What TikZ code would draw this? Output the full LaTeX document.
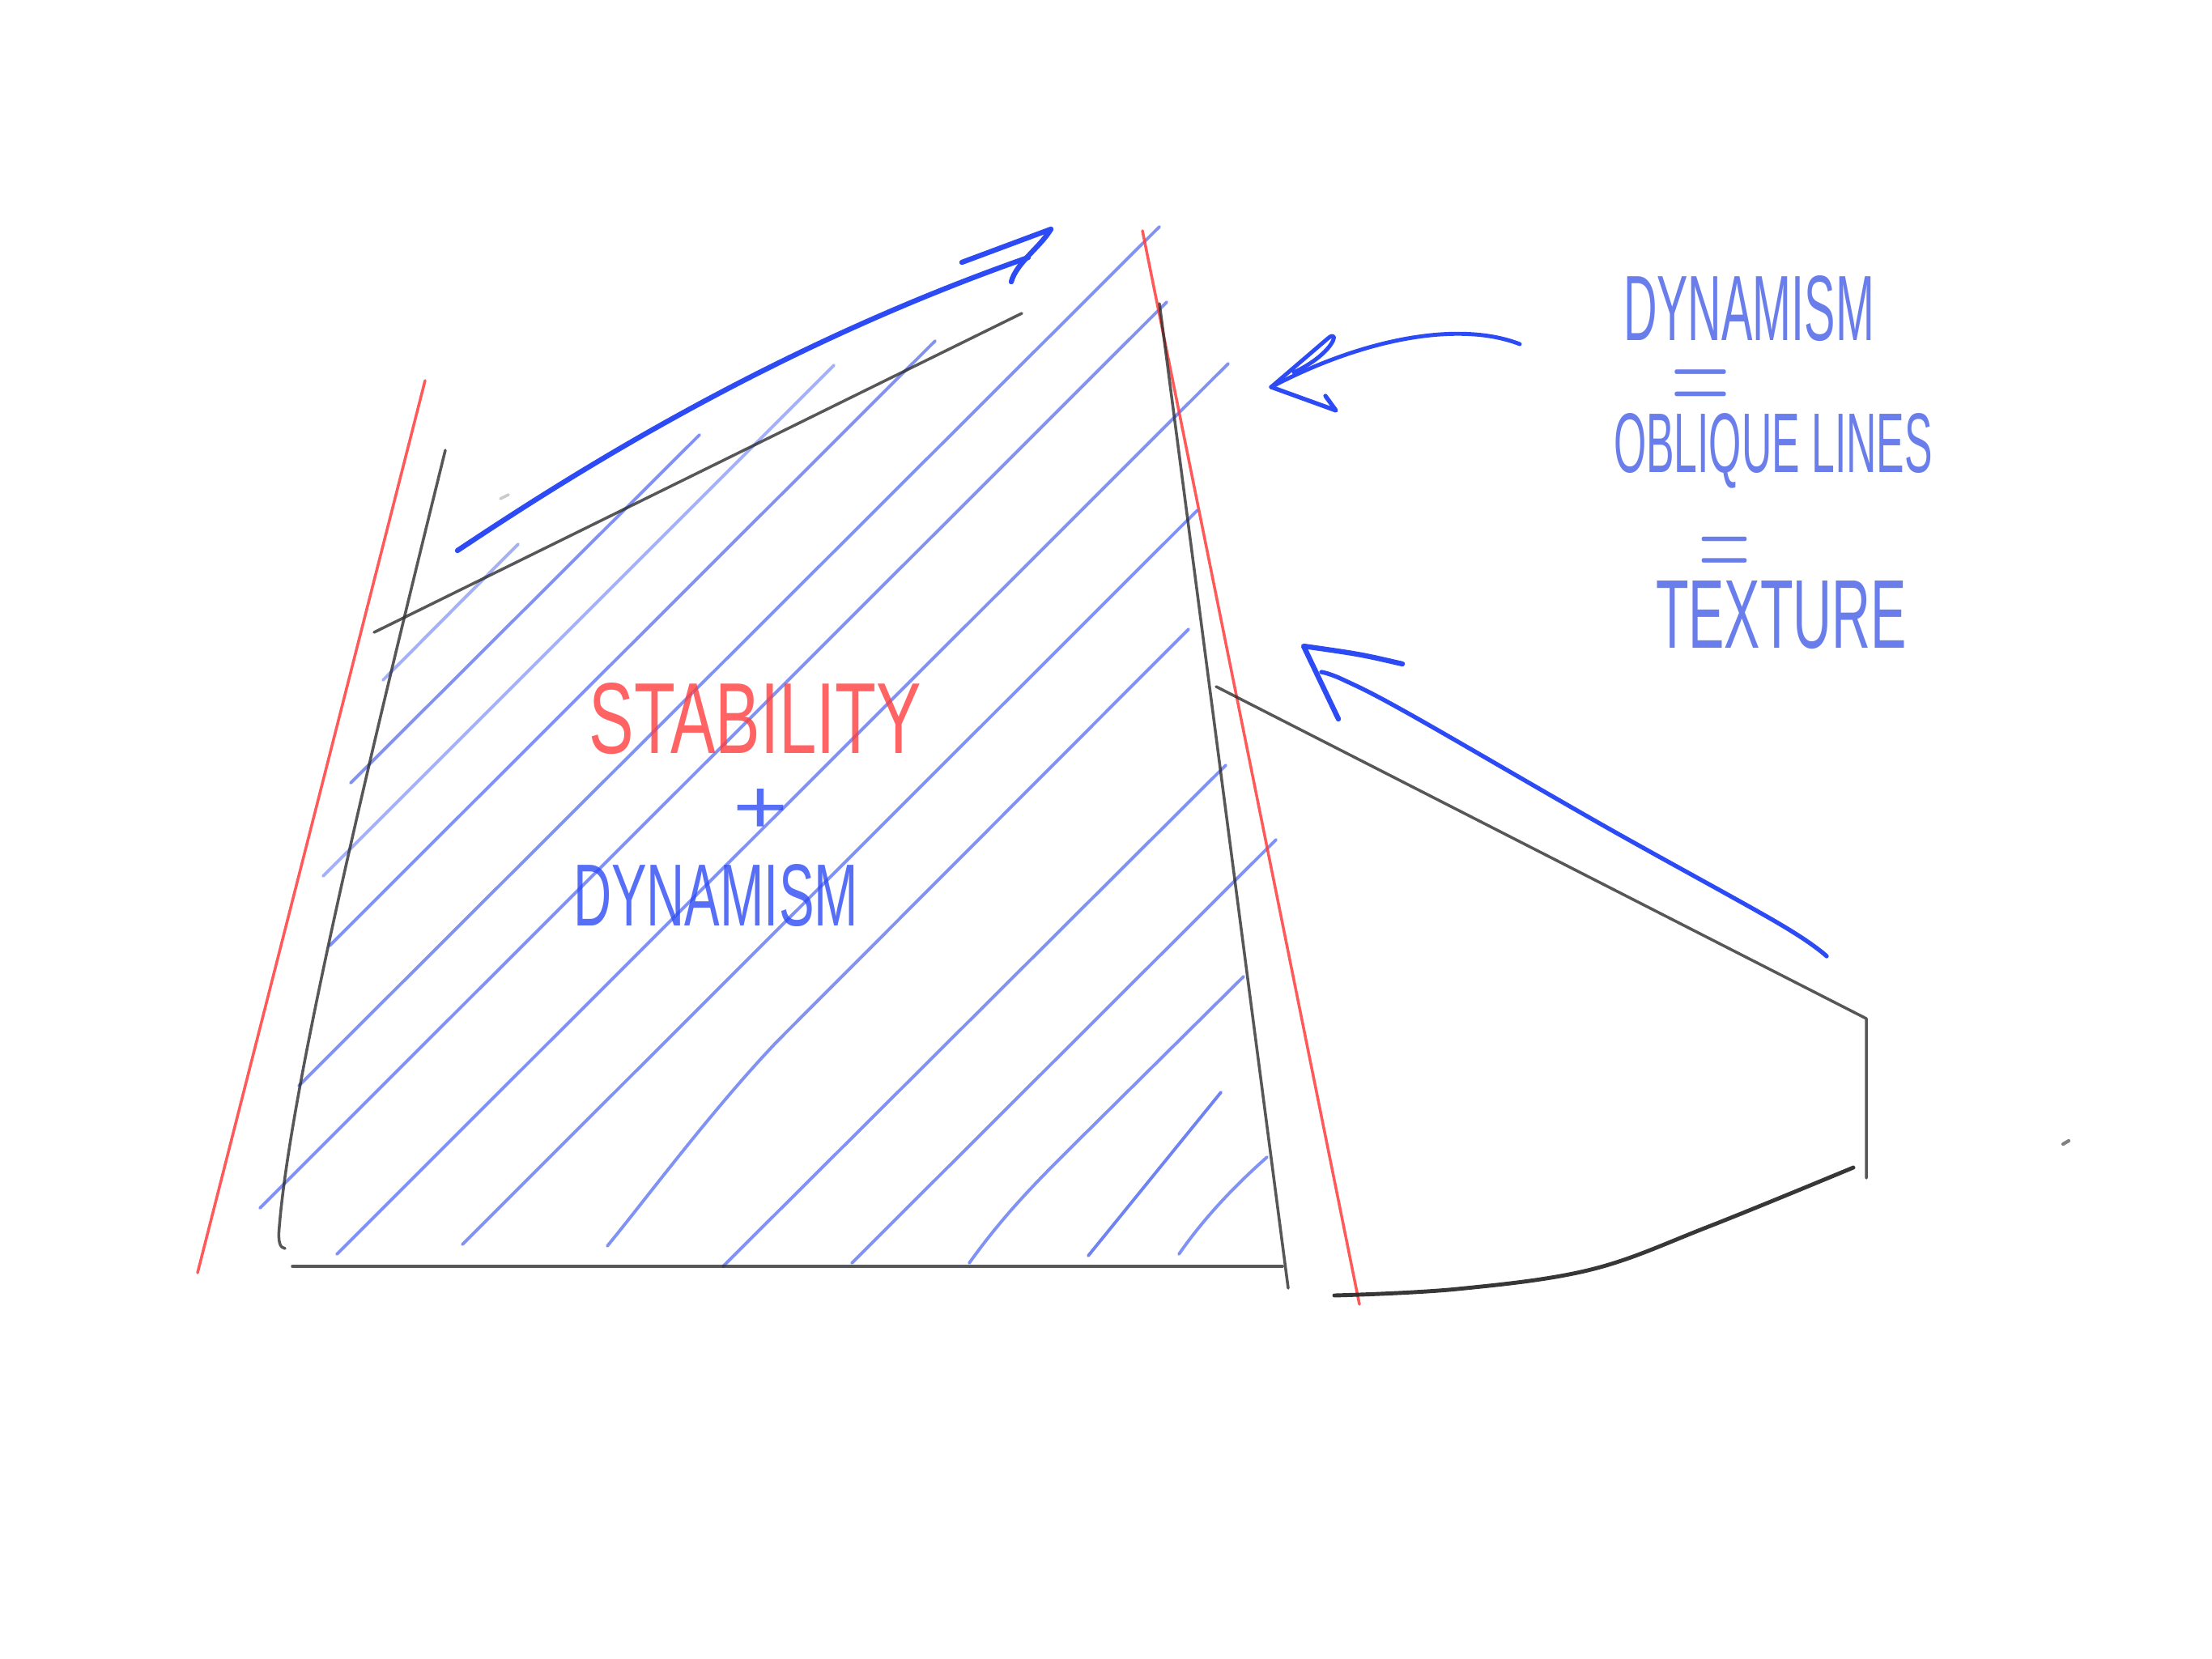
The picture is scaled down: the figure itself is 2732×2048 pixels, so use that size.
\documentclass[tikz,border=0pt]{standalone}
\usepackage[no-math]{fontspec}
\setmainfont{Liberation Sans}
\usepackage{graphicx}
\definecolor{inkred}{RGB}{255,60,60}
\definecolor{inkblue}{RGB}{45,75,245}
\definecolor{hatchblue}{RGB}{75,100,240}
\definecolor{paleblue}{RGB}{105,125,235}
\definecolor{pencil}{RGB}{45,45,45}
\newcommand{\handtext}[3]{\resizebox{#1}{#2}{#3}}
\newcommand{\handeq}{\raisebox{-1.33pt}[2.34pt][0pt]{$=$}}
\tikzset{
 outline/.style={pencil,opacity=0.8,line width=1pt,line cap=round,line join=round},
 redline/.style={inkred,opacity=0.85,line width=1pt,line cap=round},
 hatch/.style={hatchblue,opacity=0.7,line width=1.1pt,line cap=round},
 faint/.style={hatch,opacity=0.5},
 bluearrow/.style={inkblue,line width=1.8pt,line cap=round,line join=round},
 label/.style={inner sep=0pt,anchor=base}
}
\begin{document}
\begin{tikzpicture}[x=0.1mm,y=-0.1mm]
 \useasboundingbox[fill=white] (0,0) rectangle (2732,2048);
 % hatching
 \draw[faint](473,840)--(640,672);
 \draw[hatch](433,967)--(864,537);
 \draw[faint](399,1082)--(1030,451);
 \draw[hatch](407,1168)--(1155,421);
 \draw[hatch](369,1341)--(1432,280);
 \draw[hatch](321,1492)--(1441,373);
 \draw[hatch](416,1549)--(1517,449);
 \draw[hatch](571,1537)--(1479,630);
 \draw[hatch](750,1539) .. controls (800,1478) and (880,1370) .. (960,1286)--(1468,777);
 \draw[hatch](893,1564)--(1514,945);
 \draw[hatch](1052,1560)--(1576,1037);
 \draw[hatch](1197,1560) .. controls (1240,1500) and (1280,1460) .. (1320,1420)--(1536,1206);
 \draw[hatch,opacity=0.8](1344,1551)--(1508,1349);
 \draw[hatch](1456,1549) .. controls (1490,1500) and (1530,1460) .. (1565,1429);
 % red guides
 \draw[redline](525,470)--(244,1572);
 \draw[redline](1411,285)--(1679,1611);
 % block outline
 \draw[outline](550,556) .. controls (470,880) and (360,1330) .. (345,1515)
   .. controls (343,1535) and (346,1541) .. (352,1542);
 \draw[outline](361,1564)--(1584,1564);
 \draw[outline](1432,375)--(1591,1591);
 \draw[outline](462,781)--(1262,387);
 \draw[outline](1502,848)--(2305,1258)--(2305,1455);
 \draw[outline,opacity=0.95,line width=1.4pt] plot[smooth,tension=0.6] coordinates {(1648,1600) (1800,1592) (1965,1568) (2110,1515) (2289,1442)};
 \draw[outline,opacity=0.6,line width=1.2pt](2548,1413)--(2555,1409);
 \draw[outline,opacity=0.25](618,616)--(628,611);
 % arrows
 \coordinate (tipA) at (1298,283);
 \coordinate (tipB) at (1570,478);
 \coordinate (tipC) at (1610,798);
 \draw[bluearrow](565,680) .. controls (700,590) and (950,430) .. (1270,318);
 \draw[bluearrow](1188,324)--(tipA) .. controls (1285,305) and (1255,325) .. (1249,348);
 \draw[bluearrow,line width=1.4pt](1877,425) .. controls (1800,395) and (1680,420) .. (tipB);
 \draw[bluearrow,line width=1.4pt](tipB)--(1640,418) .. controls (1655,405) and (1650,435) .. (1598,460);
 \draw[bluearrow,line width=1.5pt](tipB)--(1650,507)--(1637,489);
 \draw[bluearrow,line width=1.5pt] plot[smooth,tension=0.6] coordinates {(2256,1181) (2196,1140) (1981,1020) (1741,882) (1660,840) (1632,830)};
 \draw[bluearrow](1732,820) .. controls (1680,808) .. (tipC)--(1653,888);
 % labels
 \node[label,text=inkred,opacity=0.8] (stab) at (933,930) {\handtext{4.1cm}{0.87cm}{STABILITY}};
 \node[label,text=inkblue,opacity=0.8,anchor=center] (plus) at (939,1002) {\handtext{0.68cm}{0.55cm}{+}};
 \node[label,text=inkblue,opacity=0.8] (dynL) at (884,1143) {\handtext{3.52cm}{0.76cm}{DYNAMISM}};
 \node[label,text=paleblue] (dynR) at (2160,420) {\handtext{3.1cm}{0.8cm}{DYNAMISM}};
 \node[label,text=paleblue,anchor=center] (eqA) at (2100,473) {\handtext{0.74cm}{0.33cm}{\handeq}};
 \node[label,text=paleblue] (obl) at (2190,583) {\handtext{3.94cm}{0.73cm}{OBLIQUE LINES}};
 \node[label,text=paleblue,anchor=center] (eqB) at (2130,679) {\handtext{0.65cm}{0.32cm}{\handeq}};
 \node[label,text=paleblue] (tex) at (2200,800) {\handtext{3.1cm}{0.83cm}{TEXTURE}};
\end{tikzpicture}
\end{document}
